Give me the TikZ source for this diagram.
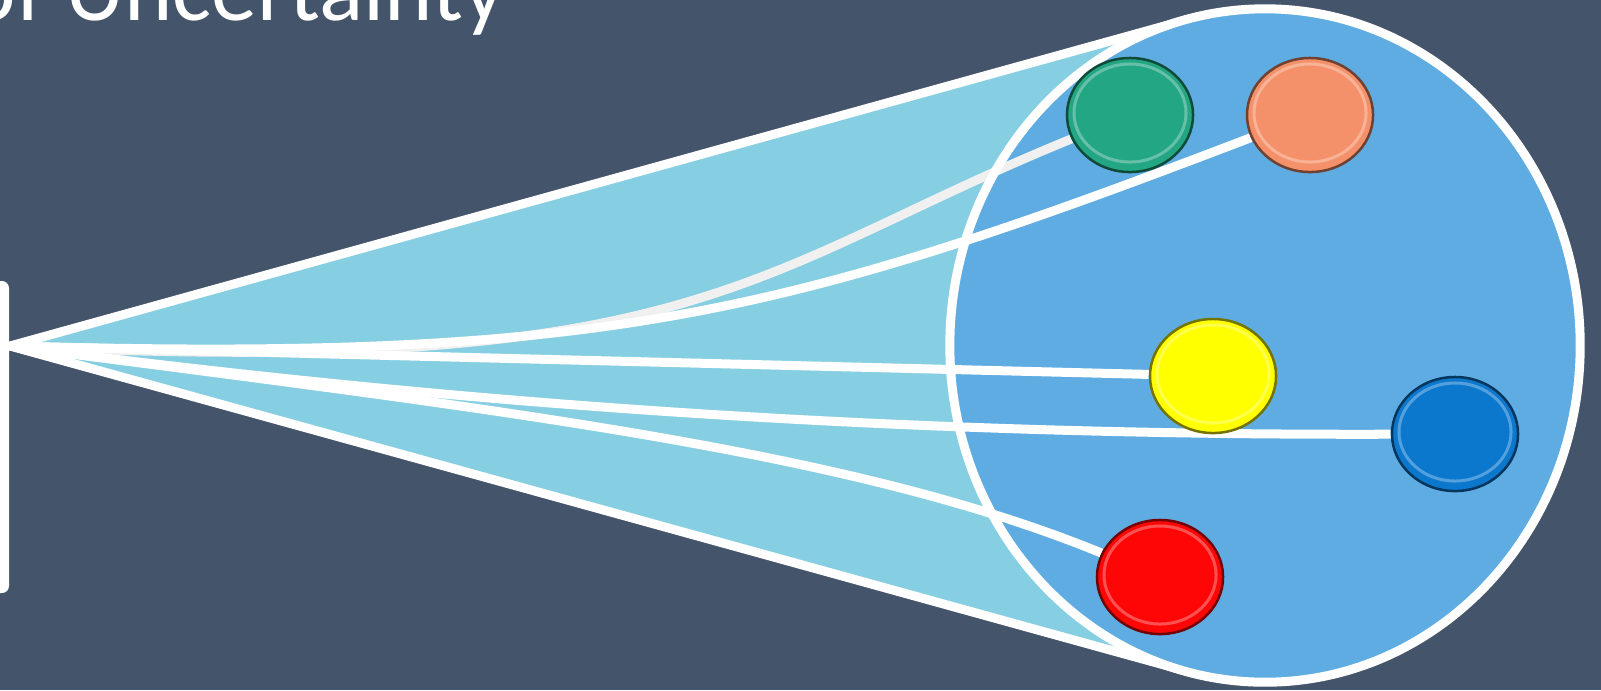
\documentclass[tikz,border=0pt]{standalone}
\usepackage{fontspec}
\setmainfont{Carlito}
\usetikzlibrary{positioning,shapes.geometric}
\definecolor{slate}{HTML}{44546A}
\definecolor{conefill}{HTML}{86CEE2}
\definecolor{cloudfill}{HTML}{5FACE2}
\definecolor{ballgreen}{HTML}{23A682}
\definecolor{ballorange}{HTML}{F5916A}
\definecolor{ballyellow}{HTML}{FFFF00}
\definecolor{ballblue}{HTML}{0B78CE}
\definecolor{ballred}{HTML}{FF0606}
\definecolor{paleline}{HTML}{F0F0F0}
\pgfdeclarelayer{back}
\pgfsetlayers{back,main}

\begin{document}
\begin{tikzpicture}[x=0.01cm, y=-0.01cm,
    rimLine/.style={draw=white, line width=0.9mm},
    linkLine/.style={draw=white, line width=0.9mm},
    ballNode/.style={ellipse, fill=#1, draw=#1!45!black, line width=0.25mm, minimum width=1.26cm, minimum height=1.14cm, inner sep=0pt,
        path picture={\draw[white, opacity=0.3, line width=0.3mm] ([yshift=0.02cm]path picture bounding box.center) ellipse [x radius=0.56cm, y radius=0.49cm];}},
    titleFont/.style={font=\fontsize{26.2pt}{31pt}\selectfont, text=white}
]
    \useasboundingbox (0,0) rectangle (1601,690);
    \clip (0,0) rectangle (1601,690);

    % title, cut off at the top
    \node[titleFont, anchor=base west, inner sep=0pt] (title) at (-33,20) {of Uncertainty};

    % bar on the left edge
    \fill[white, rounded corners=2pt] (-20,281) rectangle (9,593);

    % the five outcomes
    \node[ballNode=ballgreen] (green) at (1130,115) {};
    \node[ballNode=ballorange] (orange) at (1310,115) {};
    \node[ballNode=ballyellow] (yellow) at (1213,376) {};
    \node[ballNode=ballblue] (blue) at (1455,434) {};
    \node[ballNode=ballred] (red) at (1160,577) {};

    \begin{pgfonlayer}{back}
    \fill[slate] (0,0) rectangle (1601,690);

    % cone
    \coordinate (apex) at (10,346);
    \coordinate (coneTop) at (1186,20);
    \coordinate (coneBot) at (1186,671);
    \fill[conefill] (apex) -- (coneTop) -- (coneBot) -- cycle;
    \draw[rimLine] (coneTop) -- (apex) -- (coneBot);

    % cloud
    \node[ellipse, fill=cloudfill, minimum width=6.3cm, minimum height=6.73cm, inner sep=0pt] (cloud) at (1265,345.5) {};

    % links
    \draw[linkLine, draw=paleline] (apex) .. controls (700,380) and (750,270) .. (green);
    \draw[linkLine] (apex) .. controls (600,362) and (780,318) .. (orange);
    \draw[linkLine] (apex) -- (yellow);
    \draw[linkLine] (apex) .. controls (350,390) and (800,436) .. (blue);
    \draw[linkLine] (apex) .. controls (500,410) and (850,450) .. (red);

    \draw[rimLine] (cloud.center) ellipse [x radius=3.15cm, y radius=3.365cm];
    \end{pgfonlayer}
\end{tikzpicture}
\end{document}
